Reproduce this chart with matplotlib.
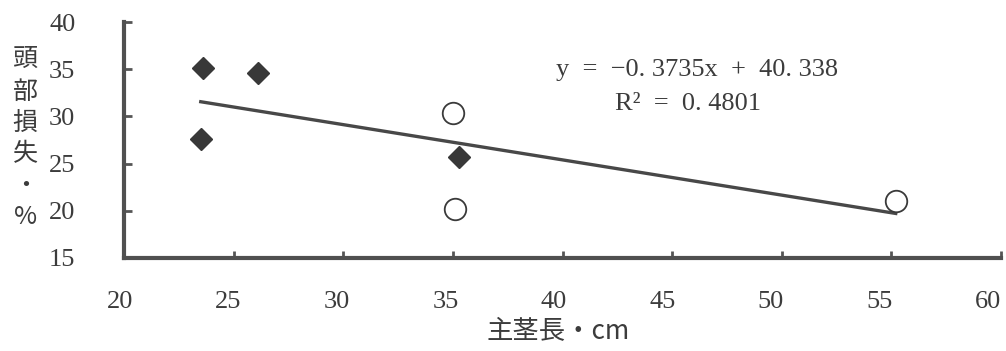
import matplotlib
matplotlib.use("Agg")
import matplotlib.pyplot as plt
import matplotlib.transforms as mtransforms
import numpy as np

# data
diamond_x = [23.6, 26.1, 23.5, 35.3]
diamond_y = [35.1, 34.6, 27.6, 25.7]
circle_x = [35.0, 35.1, 55.2]
circle_y = [30.4, 20.2, 21.0]
slope = -0.3735
intercept = 40.338
r2 = 0.4801
x_ticks = [20, 25, 30, 35, 40, 45, 50, 55, 60]
y_ticks = [15, 20, 25, 30, 35, 40]
ylabel_chars = ["頭", "部", "損", "失", "・", "%"]
xlabel = "主茎長・cm"

ink = "#3c3c3c"
serif = ["Liberation Serif", "DejaVu Serif"]
cjk = ["Noto Sans CJK JP", "DejaVu Sans"]

fig = plt.figure(figsize=(10.06, 3.51), dpi=100)
ax = fig.add_axes([0.1233, 0.265, 0.995 - 0.1233, 0.937 - 0.265])

all_x = diamond_x + circle_x
xs = np.array([min(all_x), max(all_x)])
ax.plot(xs, slope * xs + intercept, color="#484848", lw=2.4, zorder=2)
ax.plot(diamond_x, diamond_y, linestyle="none", marker="D", ms=11,
        mfc="#383838", mec="#383838", mew=1, zorder=3)
ax.plot(circle_x, circle_y, linestyle="none", marker="o", ms=15.5,
        mfc="white", mec="#3a3a3a", mew=1.3, zorder=3)

ax.set_xlim(20, 60)
ax.set_ylim(15, 40)
ax.set_xticks(x_ticks)
ax.set_yticks(y_ticks)
ax.set_xticklabels([str(v) for v in x_ticks], fontfamily=serif, fontsize=19, color=ink)
ax.set_yticklabels([str(v) for v in y_ticks], fontfamily=serif, fontsize=19, color=ink)
ax.tick_params(axis="x", direction="in", length=5, width=2, color="#555555", pad=24)
ax.tick_params(axis="y", direction="in", length=6, width=2, color="#555555", pad=35)
for side in ["top", "right"]:
    ax.spines[side].set_visible(False)
for side in ["left", "bottom"]:
    ax.spines[side].set_linewidth(3)
    ax.spines[side].set_color("#505050")

labs = ax.get_xticklabels()
n = len(labs)
for i, lab in enumerate(labs):
    dx = -4 - 9 * i / (n - 1)
    off = mtransforms.ScaledTranslation(dx / 100, 0, fig.dpi_scale_trans)
    lab.set_transform(lab.get_transform() + off)

fig.text(0.693, 0.800, "y  =  −0. 3735x  +  40. 338",
         fontfamily=serif, fontsize=19, color=ink, ha="center", va="center")
fig.text(0.684, 0.705, "R²  =  0. 4801",
         fontfamily=serif, fontsize=19, color=ink, ha="center", va="center")

fig.text(0.025, 0.605, "\n".join(ylabel_chars), fontfamily=cjk, fontsize=18,
         color=ink, ha="center", va="center", linespacing=1.27)
fig.text(0.555, 0.054, xlabel, fontfamily=cjk, fontsize=19, color=ink,
         ha="center", va="center")

fig.savefig("out.png", dpi=100)
